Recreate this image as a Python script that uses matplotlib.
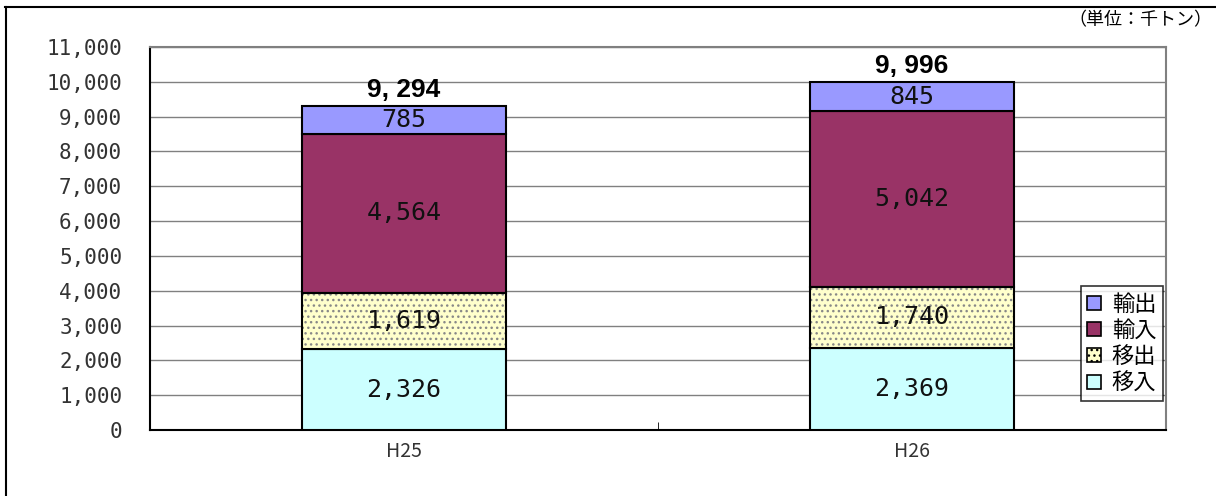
import matplotlib.pyplot as plt
from matplotlib.lines import Line2D
from matplotlib.patches import Patch
import numpy as np

plt.rcParams['font.family'] = ['Noto Sans CJK JP', 'DejaVu Sans']

# data
years = ['H25', 'H26']
inbound = [2326, 2369]     # 移入
outbound = [1619, 1740]    # 移出
imports = [4564, 5042]     # 輸入
exports = [785, 845]       # 輸出
series_names = ['移入', '移出', '輸入', '輸出']
yticks = list(range(0, 11001, 1000))

colors = ['#CCFFFF', '#FFFFCC', '#993366', '#9999FF']

fig = plt.figure(figsize=(12.16, 4.96), dpi=100)
ax = fig.add_axes([150 / 1216, 66 / 496, 1016 / 1216, 383 / 496])

x = np.arange(len(years))
w = 0.4
series = [inbound, outbound, imports, exports]
bottom = np.zeros(len(years))
for vals, col, name in zip(series, colors, series_names):
    vals = np.array(vals)
    if name == '移出':
        ax.bar(x, vals, w, bottom=bottom, color=col, hatch='...',
               edgecolor='#888888', linewidth=0, zorder=3)
        ax.bar(x, vals, w, bottom=bottom, color='none',
               edgecolor='black', linewidth=1.5, zorder=4)
    else:
        ax.bar(x, vals, w, bottom=bottom, color=col,
               edgecolor='black', linewidth=1.5, zorder=3)
    for xi, b, v in zip(x, bottom, vals):
        ax.text(xi, b + v / 2, f'{v:,}', ha='center', va='center',
                fontsize=18, color='#111111', zorder=5,
                family='DejaVu Sans Mono')
    bottom = bottom + vals

for xi, t in zip(x, bottom):
    ax.annotate(f'{int(t):,}'.replace(',', ', '), (xi, t), xytext=(0, 3),
                textcoords='offset points', ha='center', va='bottom',
                fontsize=19, fontweight='bold', family='Liberation Sans',
                zorder=5)

ax.set_xlim(-0.5, 1.5)
ax.set_ylim(0, 11000)
ax.set_yticks(yticks)
ax.set_yticklabels([f'{v:,}' for v in yticks], fontsize=15, color='#333333',
                   family='DejaVu Sans Mono')
ax.set_xticks(x)
ax.set_xticklabels(years, fontsize=14, color='#333333')
ax.tick_params(axis='x', length=0, pad=8)
ax.tick_params(axis='y', length=0, pad=20)
ax.set_xticks([0.5], minor=True)
ax.tick_params(axis='x', which='minor', direction='in', length=6, color='black')
ax.grid(axis='y', color='#808080', linewidth=1, zorder=0)
for s in ['left', 'bottom']:
    ax.spines[s].set_color('black')
    ax.spines[s].set_linewidth(1.5)
for s in ['top', 'right']:
    ax.spines[s].set_color('#808080')
    ax.spines[s].set_linewidth(1.5)

handles = [Patch(facecolor=c, edgecolor='black', linewidth=1.2,
                 hatch='...' if n == '移出' else None)
           for c, n in zip(colors, series_names)][::-1]
leg = ax.legend(handles, series_names[::-1], loc='lower right',
                bbox_to_anchor=(0.997, 0.075), fontsize=16, frameon=True,
                fancybox=False, edgecolor='black', handlelength=0.6,
                handleheight=0.6, handletextpad=0.5, labelspacing=0.15,
                borderpad=0.3, borderaxespad=0)
leg.get_frame().set_linewidth(1.2)

fig.text(1212 / 1216, 1 - 20 / 496, '（単位：千トン）', ha='right', va='center',
         fontsize=13)

# outer frame (top and left)
fig.add_artist(Line2D([5 / 1216, 1], [1 - 7 / 496, 1 - 7 / 496],
                      color='black', linewidth=1.5, transform=fig.transFigure))
fig.add_artist(Line2D([6 / 1216, 6 / 1216], [0, 1 - 7 / 496],
                      color='black', linewidth=1.5, transform=fig.transFigure))

fig.savefig('out.png', dpi=100)
